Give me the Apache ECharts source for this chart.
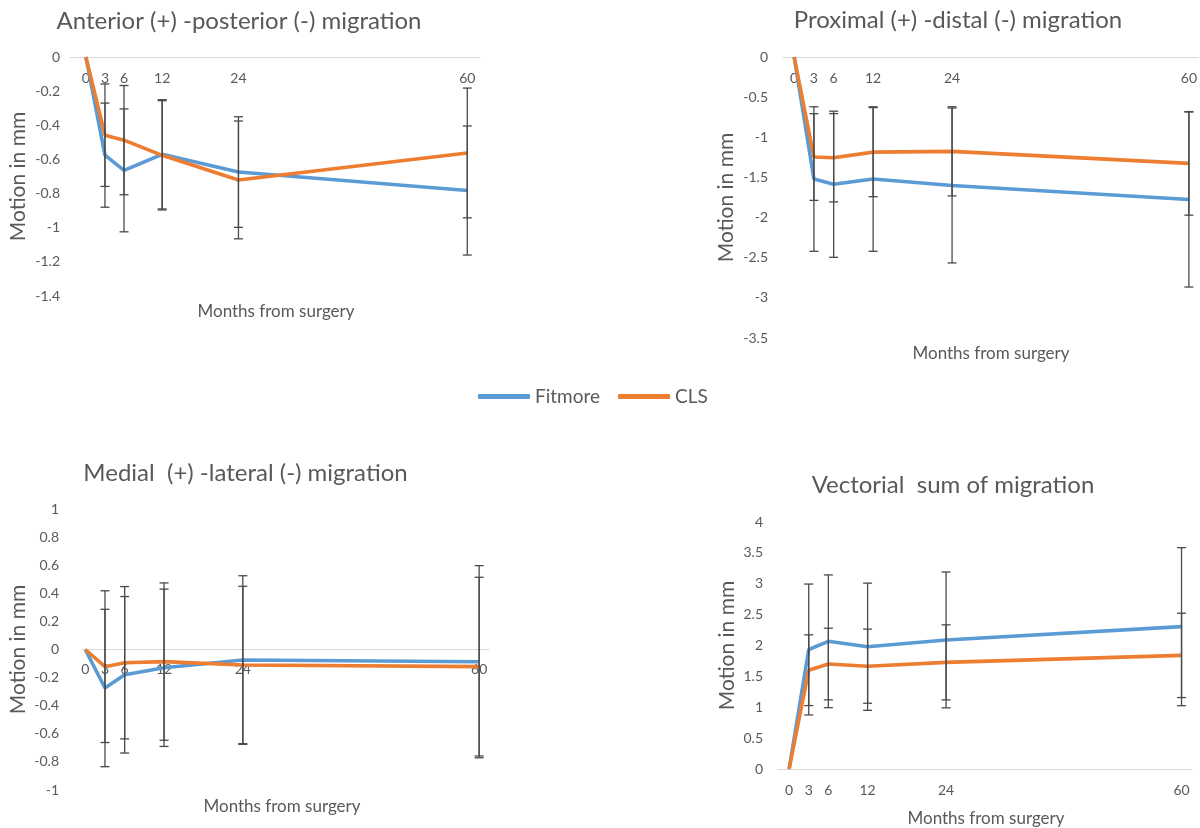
<!DOCTYPE html>
<html>
<head>
<meta charset="utf-8">
<script src="https://cdn.jsdelivr.net/npm/echarts@6/dist/echarts.min.js"></script>
<style>
html,body{margin:0;padding:0;background:#fff;}
#chart{width:1200px;height:828px;}
</style>
</head>
<body>
<div id="chart"></div>
<script>
// ---- data ----
const months = [0, 3, 6, 12, 24, 60];
const monthTicks = [0, 3, 6, 12, 24, 60];
const seriesNames = ['Fitmore', 'CLS'];

const titles = ['Anterior (+) -posterior (-) migration', 'Proximal (+) -distal (-) migration', 'Medial  (+) -lateral (-) migration', 'Vectorial  sum of migration'];
const xAxisTitle = 'Months from surgery';
const yAxisTitle = 'Motion in mm';

// Anterior-posterior
const apFitmore   = [0, -0.575, -0.664, -0.57, -0.674, -0.782];
const apCLS       = [0, -0.458, -0.487, -0.576, -0.72, -0.562];
const apFitmoreSD = [0, 0.305, 0.36, 0.32, 0.324, 0.378];
const apCLSSD     = [0, 0.30, 0.32, 0.32, 0.345, 0.38];

// Proximal-distal
const pdFitmore   = [0, -1.52, -1.585, -1.52, -1.60, -1.775];
const pdCLS       = [0, -1.246, -1.255, -1.185, -1.175, -1.325];
const pdFitmoreSD = [0, 0.90, 0.91, 0.90, 0.965, 1.09];
const pdCLSSD     = [0, 0.54, 0.55, 0.555, 0.555, 0.645];

// Medial-lateral
const mlFitmore   = [0, -0.274, -0.18, -0.13, -0.075, -0.087];
const mlCLS       = [0, -0.122, -0.094, -0.086, -0.11, -0.122];
const mlFitmoreSD = [0, 0.56, 0.557, 0.56, 0.60, 0.684];
const mlCLSSD     = [0, 0.54, 0.542, 0.56, 0.56, 0.636];

// Vectorial sum
const vsFitmore   = [0, 1.935, 2.068, 1.98, 2.09, 2.305];
const vsCLS       = [0, 1.60, 1.70, 1.665, 1.727, 1.84];
const vsFitmoreSD = [0, 1.06, 1.075, 1.03, 1.10, 1.28];
const vsCLSSD     = [0, 0.573, 0.58, 0.60, 0.608, 0.683];

// ---- layout / styling ----
const FONT = 'Lato, "Open Sans", sans-serif';
const TXT = '#595959';
const BLUE = '#5B9BD5';
const ORANGE = '#ED7D31';

const panels = [
  { grid: {left: 70, top: 57, width: 410, height: 239}, xMin: -2.5, xMax: 62, yMin: -1.4, yMax: 0, yInt: 0.2,
    labelMargin: 10, nameGap: 41, xLabelMargin: 14, title: [234, 4], xName: [271, 298],
    fit: apFitmore, cls: apCLS, fitSD: apFitmoreSD, clsSD: apCLSSD },
  { grid: {left: 783, top: 57, width: 416, height: 281}, xMin: -1.7, xMax: 61.5, yMin: -3.5, yMax: 0, yInt: 0.5,
    labelMargin: 15, nameGap: 46, xLabelMargin: 14, title: [953, 3], xName: [986, 340],
    fit: pdFitmore, cls: pdCLS, fitSD: pdFitmoreSD, clsSD: pdCLSSD },
  { grid: {left: 82, top: 509, width: 407, height: 281}, xMin: -0.5, xMax: 61.5, yMin: -1, yMax: 1, yInt: 0.2,
    labelMargin: 23, nameGap: 53, xLabelMargin: 13, title: [240.5, 456], xName: [277, 793],
    fit: mlFitmore, cls: mlCLS, fitSD: mlFitmoreSD, clsSD: mlCLSSD },
  { grid: {left: 778, top: 522, width: 414, height: 247}, xMin: -1.7, xMax: 61.6, yMin: 0, yMax: 4, yInt: 0.5,
    labelMargin: 15, nameGap: 40, xLabelMargin: 14, title: [948, 468], xName: [981, 805],
    fit: vsFitmore, cls: vsCLS, fitSD: vsFitmoreSD, clsSD: vsCLSSD }
];

function errRender(params, api) {
  const x = api.value(0), m = api.value(1), s = api.value(2);
  if (!s) return;
  const top = api.coord([x, m + s]);
  const bot = api.coord([x, m - s]);
  const hw = 4.5;
  const st = {stroke: '#4a4a4a', lineWidth: 1.3};
  return {
    type: 'group',
    children: [
      {type: 'line', shape: {x1: top[0], y1: top[1], x2: bot[0], y2: bot[1]}, style: st},
      {type: 'line', shape: {x1: top[0] - hw, y1: top[1], x2: top[0] + hw, y2: top[1]}, style: st},
      {type: 'line', shape: {x1: bot[0] - hw, y1: bot[1], x2: bot[0] + hw, y2: bot[1]}, style: st}
    ]
  };
}

const option = {
  backgroundColor: '#ffffff',
  animation: false,
  title: [],
  legend: {
    data: seriesNames,
    left: 473, top: 382,
    icon: 'roundRect',
    itemWidth: 52, itemHeight: 5, itemGap: 18,
    textStyle: {fontFamily: FONT, fontSize: 19, color: TXT}
  },
  grid: [], xAxis: [], yAxis: [], series: []
};

panels.forEach((p, i) => {
  option.grid.push(p.grid);
  option.title.push({
    text: titles[i], left: p.title[0], top: p.title[1], textAlign: 'center',
    textStyle: {fontFamily: FONT, fontSize: 24, fontWeight: 'normal', color: TXT}
  });
  option.title.push({
    text: xAxisTitle, left: p.xName[0], top: p.xName[1], textAlign: 'center',
    textStyle: {fontFamily: FONT, fontSize: 17, fontWeight: 'normal', color: TXT}
  });
  // x axis sits where y = 0 (Excel style crossing)
  const zeroOffset = -((0 - p.yMin) / (p.yMax - p.yMin)) * p.grid.height;
  option.xAxis.push({
    type: 'value', gridIndex: i, min: p.xMin, max: p.xMax, position: 'bottom',
    offset: zeroOffset,
    axisLine: {show: true, onZero: false, lineStyle: {color: '#d9d9d9', width: 1}},
    axisTick: {show: false},
    splitLine: {show: false},
    axisLabel: {customValues: monthTicks, margin: p.xLabelMargin, fontFamily: FONT, fontSize: 14, color: TXT}
  });
  option.yAxis.push({
    type: 'value', gridIndex: i, min: p.yMin, max: p.yMax, interval: p.yInt,
    name: yAxisTitle, nameLocation: 'middle', nameGap: p.nameGap,
    nameTextStyle: {fontFamily: FONT, fontSize: 21, color: TXT},
    axisLine: {show: false}, axisTick: {show: false}, splitLine: {show: false},
    axisLabel: {margin: p.labelMargin, fontFamily: FONT, fontSize: 14, color: TXT}
  });
  const pairs = [[seriesNames[0], p.fit, p.fitSD, BLUE], [seriesNames[1], p.cls, p.clsSD, ORANGE]];
  pairs.forEach(([name, vals, sd, color]) => {
    option.series.push({
      name: name, type: 'line', xAxisIndex: i, yAxisIndex: i,
      data: months.map((m, k) => [m, vals[k]]),
      showSymbol: false, symbol: 'none',
      lineStyle: {color: color, width: 3.6},
      itemStyle: {color: color},
      z: 3
    });
  });
  pairs.forEach(([name, vals, sd]) => {
    option.series.push({
      type: 'custom', xAxisIndex: i, yAxisIndex: i,
      renderItem: errRender,
      encode: {x: 0, y: 1},
      data: months.map((m, k) => [m, vals[k], sd[k]]),
      z: 4, silent: true
    });
  });
});

const chart = echarts.init(document.getElementById('chart'), null, {renderer: 'canvas'});
chart.setOption(option);
</script>
</body>
</html>
